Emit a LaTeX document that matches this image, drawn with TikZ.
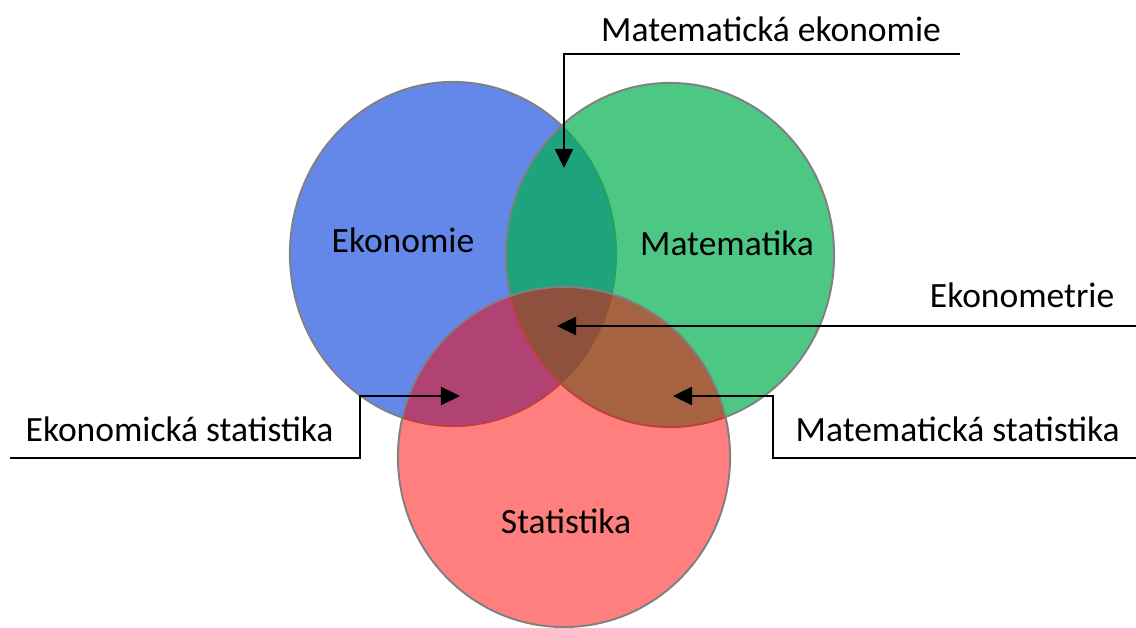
\documentclass[tikz,border=0pt]{standalone}
\usepackage{fontspec}
\setmainfont{Carlito}
\usetikzlibrary{arrows.meta,shapes.geometric}
\definecolor{ekoblue}{RGB}{100,136,234}
\definecolor{matgreen}{RGB}{0,176,80}
\definecolor{statred}{RGB}{255,0,0}

\begin{document}
\begin{tikzpicture}[x=0.01cm,y=-0.01cm,>={Triangle[length=1.9mm,width=1.8mm]},
  set/.style={ellipse,draw=gray,line width=0.55pt,inner sep=0pt},
  lbl/.style={inner sep=0pt,font=\fontsize{10.1}{12}\selectfont},
  conn/.style={->,line width=0.65pt}]
  \useasboundingbox (0,0) rectangle (1136,628);
  % the three sets, green and red see-through
  \node[set,fill=ekoblue,minimum width=3.26cm,minimum height=3.44cm] (eko) at (453,254) {};
  \node[set,fill=matgreen,fill opacity=0.7,minimum width=3.28cm,minimum height=3.44cm] (mat) at (670,255) {};
  \node[set,fill=statred,fill opacity=0.5,minimum width=3.32cm,minimum height=3.4cm] (stat) at (564,457) {};
  \node[lbl,anchor=base] (teko) at (403,253) {Ekonomie};
  \node[lbl,anchor=base] (tmat) at (727,256) {Matematika};
  \node[lbl,anchor=base] (tstat) at (566,534) {Statistika};
  % overlaps: labels with pointers
  \node[lbl,anchor=base] (tme) at (771,42) {Matematická ekonomie};
  \coordinate (me0) at (960,54);
  \coordinate (me) at (564,168);
  \draw[conn] (me0) -| (me);
  \node[lbl,anchor=base east] (tem) at (1115,308) {Ekonometrie};
  \coordinate (em0) at (1136,326);
  \coordinate (em) at (557,326);
  \draw[conn] (em0) -- (em);
  \node[lbl,anchor=base west] (tms) at (795,442) {Matematická statistika};
  \coordinate (ms0) at (1136,458);
  \coordinate (ms1) at (773,396);
  \coordinate (ms) at (673,396);
  \draw[conn] (ms0) -| (ms1) -- (ms);
  \node[lbl,anchor=base west] (tes) at (25,442) {Ekonomická statistika};
  \coordinate (es0) at (10,458);
  \coordinate (es1) at (360,396);
  \coordinate (es) at (460,396);
  \draw[conn] (es0) -| (es1) -- (es);
\end{tikzpicture}
\end{document}
